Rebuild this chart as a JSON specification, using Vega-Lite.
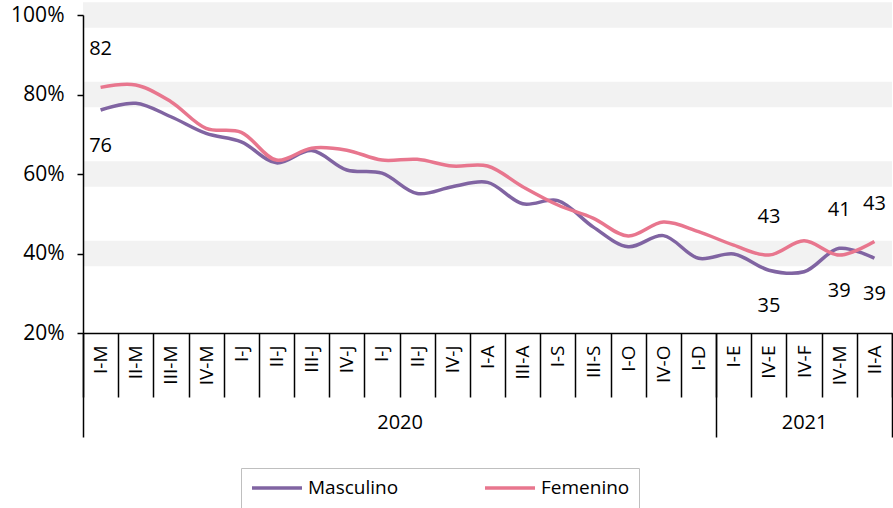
{
  "$schema": "https://vega.github.io/schema/vega-lite/v6.json",
  "width": 809,
  "height": 318,
  "autosize": {"type": "none"},
  "padding": {"left": 83, "top": 15, "right": 1, "bottom": 175},
  "background": "white",
  "config": {
    "view": {"stroke": null},
    "font": "Open Sans",
    "axis": {"labelFont": "Open Sans", "labelColor": "black"},
    "legend": {"labelFont": "Open Sans"},
    "text": {"font": "Open Sans"}
  },
  "datasets": {
    "bandas": [
      {"lo": 36.8, "hi": 43.2},
      {"lo": 56.8, "hi": 63.2},
      {"lo": 76.8, "hi": 83.2},
      {"lo": 96.8, "hi": 103.2}
    ],
    "serie": [
      {"idx": 0, "periodo": "I-M", "serie": "Masculino", "valor": 76.1, "etiqueta": "76"},
      {"idx": 1, "periodo": "II-M", "serie": "Masculino", "valor": 77.8},
      {"idx": 2, "periodo": "III-M", "serie": "Masculino", "valor": 74.4},
      {"idx": 3, "periodo": "IV-M", "serie": "Masculino", "valor": 70.2},
      {"idx": 4, "periodo": "I-J", "serie": "Masculino", "valor": 68.1},
      {"idx": 5, "periodo": "II-J", "serie": "Masculino", "valor": 62.8},
      {"idx": 6, "periodo": "III-J", "serie": "Masculino", "valor": 65.9},
      {"idx": 7, "periodo": "IV-J", "serie": "Masculino", "valor": 61.0},
      {"idx": 8, "periodo": "I-J", "serie": "Masculino", "valor": 60.2},
      {"idx": 9, "periodo": "II-J", "serie": "Masculino", "valor": 55.1},
      {"idx": 10, "periodo": "IV-J", "serie": "Masculino", "valor": 56.8},
      {"idx": 11, "periodo": "I-A", "serie": "Masculino", "valor": 57.9},
      {"idx": 12, "periodo": "III-A", "serie": "Masculino", "valor": 52.5},
      {"idx": 13, "periodo": "I-S", "serie": "Masculino", "valor": 53.3},
      {"idx": 14, "periodo": "III-S", "serie": "Masculino", "valor": 46.7},
      {"idx": 15, "periodo": "I-O", "serie": "Masculino", "valor": 41.7},
      {"idx": 16, "periodo": "IV-O", "serie": "Masculino", "valor": 44.5},
      {"idx": 17, "periodo": "I-D", "serie": "Masculino", "valor": 38.8},
      {"idx": 18, "periodo": "I-E", "serie": "Masculino", "valor": 39.9},
      {"idx": 19, "periodo": "IV-E", "serie": "Masculino", "valor": 35.8, "etiqueta": "35"},
      {"idx": 20, "periodo": "IV-F", "serie": "Masculino", "valor": 35.4},
      {"idx": 21, "periodo": "IV-M", "serie": "Masculino", "valor": 41.3, "etiqueta": "41"},
      {"idx": 22, "periodo": "II-A", "serie": "Masculino", "valor": 38.8, "etiqueta": "39"},
      {"idx": 0, "periodo": "I-M", "serie": "Femenino", "valor": 81.8, "etiqueta": "82"},
      {"idx": 1, "periodo": "II-M", "serie": "Femenino", "valor": 82.4},
      {"idx": 2, "periodo": "III-M", "serie": "Femenino", "valor": 78.2},
      {"idx": 3, "periodo": "IV-M", "serie": "Femenino", "valor": 71.5},
      {"idx": 4, "periodo": "I-J", "serie": "Femenino", "valor": 70.5},
      {"idx": 5, "periodo": "II-J", "serie": "Femenino", "valor": 63.5},
      {"idx": 6, "periodo": "III-J", "serie": "Femenino", "valor": 66.5},
      {"idx": 7, "periodo": "IV-J", "serie": "Femenino", "valor": 66.0},
      {"idx": 8, "periodo": "I-J", "serie": "Femenino", "valor": 63.5},
      {"idx": 9, "periodo": "II-J", "serie": "Femenino", "valor": 63.7},
      {"idx": 10, "periodo": "IV-J", "serie": "Femenino", "valor": 62.0},
      {"idx": 11, "periodo": "I-A", "serie": "Femenino", "valor": 62.0},
      {"idx": 12, "periodo": "III-A", "serie": "Femenino", "valor": 56.8},
      {"idx": 13, "periodo": "I-S", "serie": "Femenino", "valor": 52.2},
      {"idx": 14, "periodo": "III-S", "serie": "Femenino", "valor": 48.9},
      {"idx": 15, "periodo": "I-O", "serie": "Femenino", "valor": 44.4},
      {"idx": 16, "periodo": "IV-O", "serie": "Femenino", "valor": 47.9},
      {"idx": 17, "periodo": "I-D", "serie": "Femenino", "valor": 45.5},
      {"idx": 18, "periodo": "I-E", "serie": "Femenino", "valor": 42.1},
      {"idx": 19, "periodo": "IV-E", "serie": "Femenino", "valor": 39.6, "etiqueta": "43"},
      {"idx": 20, "periodo": "IV-F", "serie": "Femenino", "valor": 43.2},
      {"idx": 21, "periodo": "IV-M", "serie": "Femenino", "valor": 39.6, "etiqueta": "39"},
      {"idx": 22, "periodo": "II-A", "serie": "Femenino", "valor": 43.0, "etiqueta": "43"}
    ]
  },
  "layer": [
    {
      "data": {"name": "bandas"},
      "mark": {"type": "rect", "color": "#f2f2f2"},
      "encoding": {
        "x": {
          "datum": 0,
          "type": "quantitative",
          "scale": {"domain": [0, 23], "nice": false, "zero": false},
          "axis": {
            "orient": "bottom",
            "title": null,
            "values": [0, 9, 18, 20.5, 23],
            "labelExpr": "datum.value == 9 ? '2020' : (datum.value == 20.5 ? '2021' : '')",
            "tickSize": 104,
            "tickWidth": 1.5,
            "tickColor": "black",
            "tickOpacity": {"condition": {"test": "datum.value == 9 || datum.value == 20.5", "value": 0}, "value": 1},
            "domain": false,
            "grid": false,
            "labelFontSize": 20,
            "labelPadding": -25,
            "labelOverlap": false,
            "labelFlush": false,
            "labelBound": false,
            "labelAngle": 0,
            "zindex": 1
          }
        },
        "x2": {"datum": 23},
        "y": {
          "field": "lo",
          "type": "quantitative",
          "title": null,
          "scale": {"domain": [20, 100], "nice": false, "zero": false},
          "axis": {
            "orient": "left",
            "title": null,
            "values": [20, 40, 60, 80, 100],
            "labelExpr": "datum.value + '%'",
            "tickSize": 6,
            "tickWidth": 1.5,
            "tickColor": "black",
            "domainColor": "black",
            "domainWidth": 1.5,
            "labelFontSize": 21,
            "labelPadding": 13,
            "grid": false,
            "zindex": 1
          }
        },
        "y2": {"field": "hi"}
      }
    },
    {
      "data": {"name": "serie"},
      "layer": [
        {
          "mark": {"type": "line", "interpolate": "catmull-rom", "strokeWidth": 3.5},
          "encoding": {
            "x": {
              "field": "idx",
              "type": "ordinal",
              "scale": {"type": "band", "paddingInner": 0, "paddingOuter": 0},
              "axis": {
                "orient": "bottom",
                "title": null,
                "labelExpr": "['I-M','II-M','III-M','IV-M','I-J','II-J','III-J','IV-J','I-J','II-J','IV-J','I-A','III-A','I-S','III-S','I-O','IV-O','I-D','I-E','IV-E','IV-F','IV-M','II-A'][datum.value]",
                "tickBand": "extent",
                "tickSize": 64,
                "tickWidth": 1.5,
                "tickColor": "black",
                "domainColor": "black",
                "domainWidth": 1.5,
                "labelAngle": -90,
                "labelAlign": "right",
                "labelBaseline": "middle",
                "labelPadding": -52,
                "labelFontSize": 19,
                "labelOverlap": false,
                "labelFlush": false,
                "labelBound": false,
                "grid": false,
                "zindex": 1
              }
            },
            "y": {"field": "valor", "type": "quantitative", "title": null, "scale": {"domain": [20, 100], "nice": false, "zero": false}},
            "color": {
              "field": "serie",
              "type": "nominal",
              "scale": {"domain": ["Masculino", "Femenino"], "range": ["#8064A2", "#E8768E"]},
              "legend": {
                "orient": "none",
                "legendX": 158,
                "legendY": 453,
                "direction": "horizontal",
                "title": null,
                "symbolType": "stroke",
                "symbolSize": 2500,
                "symbolStrokeWidth": 3.5,
                "clipHeight": 22,
                "labelFontSize": 19,
                "labelColor": "black",
                "labelOffset": 4,
                "columnPadding": 84,
                "strokeColor": "#bfbfbf",
                "padding": 9
              }
            }
          }
        },
        {
          "transform": [
            {"joinaggregate": [{"op": "max", "field": "valor", "as": "maxv"}], "groupby": ["idx"]},
            {"filter": "datum.etiqueta != null && datum.valor >= datum.maxv"}
          ],
          "mark": {"type": "text", "fontSize": 20, "color": "black", "dy": -38, "baseline": "middle"},
          "encoding": {
            "x": {"field": "idx", "type": "ordinal"},
            "y": {"field": "valor", "type": "quantitative", "title": null, "scale": {"domain": [20, 100], "nice": false, "zero": false}},
            "text": {"field": "etiqueta"}
          }
        },
        {
          "transform": [
            {"joinaggregate": [{"op": "max", "field": "valor", "as": "maxv"}], "groupby": ["idx"]},
            {"filter": "datum.etiqueta != null && datum.valor < datum.maxv"}
          ],
          "mark": {"type": "text", "fontSize": 20, "color": "black", "dy": 36, "baseline": "middle"},
          "encoding": {
            "x": {"field": "idx", "type": "ordinal"},
            "y": {"field": "valor", "type": "quantitative", "title": null, "scale": {"domain": [20, 100], "nice": false, "zero": false}},
            "text": {"field": "etiqueta"}
          }
        }
      ]
    }
  ],
  "resolve": {"scale": {"x": "independent"}}
}
